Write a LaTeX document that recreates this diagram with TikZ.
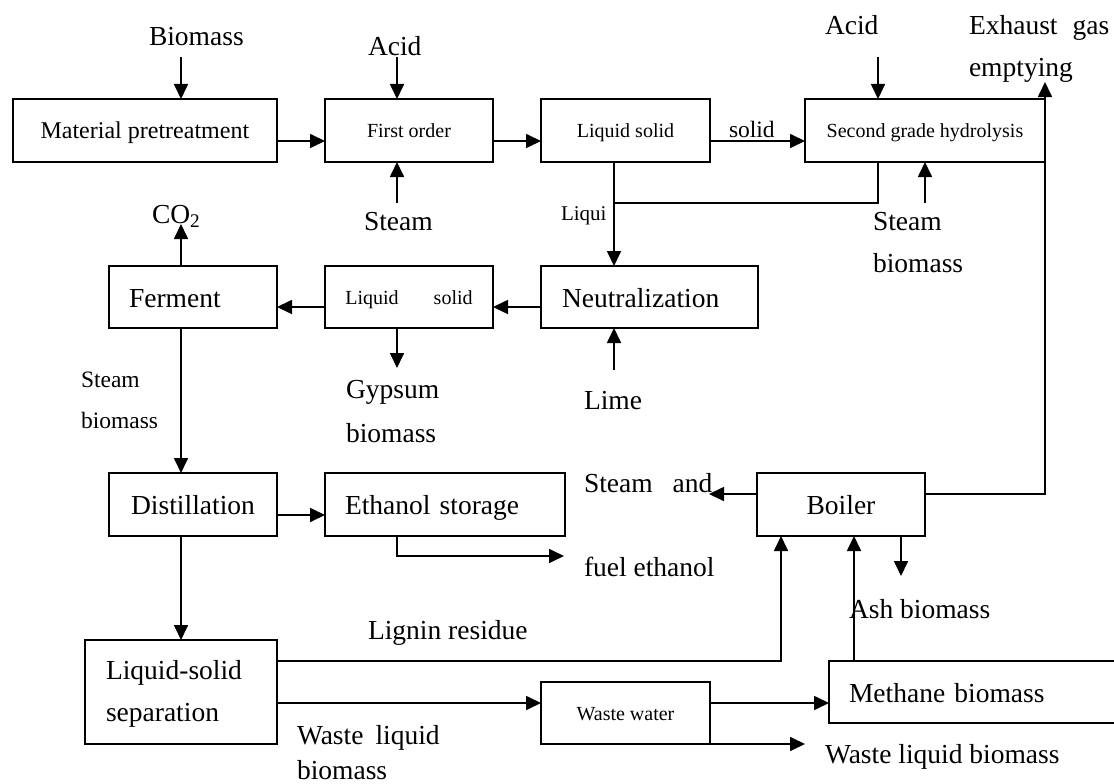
\documentclass[tikz,border=0pt]{standalone}
\usepackage{fontspec}
\setmainfont{Liberation Serif}
\usetikzlibrary{arrows.meta}
\begin{document}
\begin{tikzpicture}[x=1pt,y=-1pt,
  every node/.style={inner sep=0pt, outer sep=0pt},
  big/.style={font=\fontsize{27.5}{33}\selectfont},
  mid/.style={font=\fontsize{23.5}{28}\selectfont},
  small/.style={font=\fontsize{20}{24}\selectfont},
  box/.style={draw, line width=1.7pt, minimum height=63pt},
  bigline/.style={big, text height=20pt, text depth=0pt},
  smallline/.style={small, text height=14.5pt, text depth=0pt},
  lbl/.style={anchor=base west},
  conn/.style={line width=1.7pt},
  arr/.style={conn, -{Triangle[length=15pt,width=14pt]}},
]
\fill[white] (0,0) rectangle (1114,784);
\useasboundingbox (0,0) rectangle (1114,784);
\clip (0,0) rectangle (1114,784);

% process boxes
\node[box, font=\fontsize{24}{29}\selectfont, text height=15pt, text depth=0pt, minimum width=264.3pt] (mat) at (144.85,130.5) {Material pretreatment};
\node[box, smallline, minimum width=168pt] (first) at (409,130.5) {First order};
\node[box, smallline, minimum width=169pt] (lsA) at (625.5,130.5) {Liquid solid};
\node[box, smallline, minimum width=240pt] (second) at (925,130.5) {Second grade hydrolysis};
\node[box, bigline, minimum width=168pt, minimum height=62pt, text width=128pt, align=left] (ferment) at (193,297) {Ferment};
\node[box, smallline, text height=14pt, minimum width=168pt, minimum height=62pt] (lsB) at (409,297) {Liquid\hspace{35pt}solid};
\node[box, bigline, minimum width=217pt, minimum height=62pt, text width=175pt, align=left] (neut) at (649.5,297) {Neutralization};
\node[box, bigline, minimum width=168pt] (dist) at (193,504.5) {Distillation};
\node[box, bigline, minimum width=240pt, text width=200pt, align=left] (eth) at (445,504.5) {Ethanol storage};
\node[box, bigline, minimum width=168pt] (boiler) at (841,504.5) {Boiler};
\node[box, font=\fontsize{27.5}{42}\selectfont, minimum width=192pt, minimum height=104pt, text width=150pt, align=left] (sep) at (181,692) {\rule{0pt}{22pt}Liquid-solid\\separation};
\node[box, smallline, text height=14pt, minimum width=169pt, minimum height=62pt] (ww) at (625.5,713) {Waste water};
\node[box, bigline, minimum width=301pt, minimum height=62pt, text width=261pt, align=left] (meth) at (979.5,692) {Methane biomass};

% stream labels
\node[lbl, big] (tBio) at (149,46) {Biomass};
\node[lbl, big] (tAcid1) at (368,56) {Acid};
\node[lbl, big] (tSteam1) at (364,230) {Steam};
\node[lbl, mid] (tSolid) at (729,137) {solid};
\node[lbl, big] (tAcid2) at (825,35) {Acid};
\node[lbl, big] (tExh) at (969,35) {Exhaust\hspace{15pt}gas};
\node[lbl, big] (tEmpty) at (969,77) {emptying};
\node[lbl, big] (tSteam2) at (873,230) {Steam};
\node[lbl, big] (tBio2) at (873,272) {biomass};
\node[lbl, font=\fontsize{21}{25}\selectfont] (tLiqui) at (561,220) {Liqui};
\node[lbl, big] (tCO2) at (152,223) {CO\textsubscript{2}};
\node[lbl, mid] (tSteamL) at (81,387) {Steam};
\node[lbl, mid] (tBioL) at (81,428) {biomass};
\node[lbl, big] (tGyp) at (346,398) {Gypsum};
\node[lbl, big] (tBioG) at (346,442) {biomass};
\node[lbl, big] (tLime) at (584,409) {Lime};
\node[lbl, big] (tSteamAnd) at (584,492) {Steam\hspace{20pt}and};
\node[lbl, big] (tFuel) at (584,576) {fuel ethanol};
\node[lbl, big] (tLignin) at (368,639) {Lignin residue};
\node[lbl, big] (tAsh) at (849,618) {Ash biomass};
\node[lbl, big] (tWL) at (297,744) {Waste\hspace{12pt}liquid};
\node[lbl, big] (tWLb) at (297,779) {biomass};
\node[lbl, big] (tWLB) at (825,763) {Waste liquid biomass};

% free ends and junctions
\coordinate (bioA) at (181,57);
\coordinate (acid1A) at (397,57);
\coordinate (steam1A) at (397,203);
\coordinate (acid2A) at (878,57);
\coordinate (steam2A) at (925,203);
\coordinate (liqJ) at (614,203);
\coordinate (limeA) at (614,370);
\coordinate (gypA) at (397,368);
\coordinate (co2A) at (181,224);
\coordinate (fuelA) at (564,556);
\coordinate (steamOut) at (709,494);
\coordinate (exhA) at (1045,82);
\coordinate (ligJ) at (781,661);
\coordinate (wwIn) at ([yshift=10pt]ww.west);
\coordinate (wlA) at (805,744);
\coordinate (methA) at (854,661);
\coordinate (ashA) at (901,576);

% hydrolysis line
\draw[arr] (bioA) -- (bioA |- mat.north);
\draw[arr] ([yshift=-10.5pt]mat.east) -- ([yshift=-10.5pt]first.west);
\draw[arr] (acid1A) -- (acid1A |- first.north);
\draw[arr] (steam1A) -- (steam1A |- first.south);
\draw[arr] ([yshift=-10.5pt]first.east) -- ([yshift=-10.5pt]lsA.west);
\draw[arr] ([yshift=-10.5pt]lsA.east) -- ([yshift=-10.5pt]second.west);
\draw[arr] (acid2A) -- (acid2A |- second.north);
\draw[arr] (steam2A) -- (steam2A |- second.south);
\draw[arr] (liqJ |- lsA.south) -- (liqJ |- neut.north);
\draw[conn] (acid2A |- second.south) |- (liqJ);

% neutralization and fermentation
\draw[arr] (limeA) -- (limeA |- neut.south);
\draw[arr] ([yshift=-10pt]neut.west) -- ([yshift=-10pt]lsB.east);
\draw[arr] ([yshift=-10pt]lsB.west) -- ([yshift=-10pt]ferment.east);
\draw[arr] (gypA |- lsB.south) -- (gypA);
\draw[arr] (co2A |- ferment.north) -- (co2A);
\draw[arr] (co2A |- ferment.south) -- (co2A |- dist.north);

% distillation and products
\draw[arr] ([yshift=-10.5pt]dist.east) -- ([yshift=-10.5pt]eth.west);
\draw[arr] (co2A |- dist.south) -- (sep.north);
\draw[arr] (gypA |- eth.south) |- (fuelA);
\draw[arr] (boiler.west |- steamOut) -- (steamOut);
\draw[arr] (boiler.east |- steamOut) -| (exhA);

% residues to boiler and waste water
\draw[arr] (sep.east |- ligJ) -- (ligJ) -- (ligJ |- boiler.south);
\draw[arr] (sep.east |- wwIn) -- (wwIn);
\draw[arr] (ww.east |- wwIn) -- (meth.west |- wwIn);
\draw[arr] (ww.south east) -- (wlA);
\draw[arr] (methA |- meth.north) -- (methA |- boiler.south);
\draw[arr] (ashA |- boiler.south) -- (ashA);
\end{tikzpicture}
\end{document}
